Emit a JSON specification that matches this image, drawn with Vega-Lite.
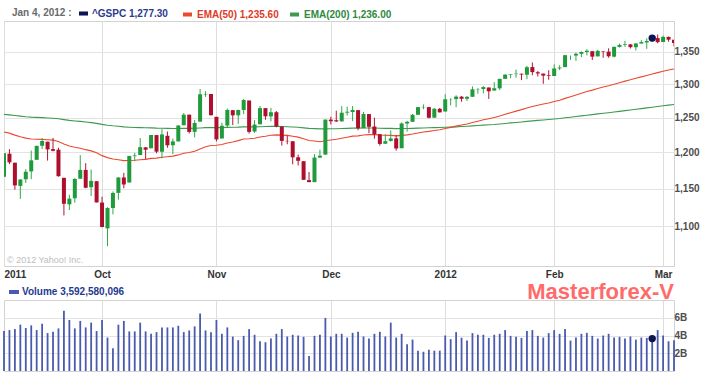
{
  "$schema": "https://vega.github.io/schema/vega-lite/v6.json",
  "background": "white",
  "padding": {"left": 1, "top": 7, "right": 0, "bottom": 0},
  "spacing": 34,
  "bounds": "flush",
  "resolve": {"scale": {"fill": "independent"}, "legend": {"fill": "independent"}},
  "datasets": {
    "px": [
      {"d":"2011-09-07","o":1165.85,"h":1198.62,"l":1165.85,"c":1198.62,"v":4.50,"e50":1229.0,"e200":1254.6},
      {"d":"2011-09-08","o":1197.98,"h":1204.40,"l":1183.34,"c":1185.90,"v":4.61,"e50":1227.3,"e200":1253.9},
      {"d":"2011-09-09","o":1185.37,"h":1185.37,"l":1148.37,"c":1154.23,"v":4.72,"e50":1224.4,"e200":1252.9},
      {"d":"2011-09-12","o":1153.50,"h":1162.52,"l":1136.07,"c":1162.27,"v":5.22,"e50":1222.0,"e200":1252.0},
      {"d":"2011-09-13","o":1162.59,"h":1176.41,"l":1157.44,"c":1172.87,"v":4.84,"e50":1220.1,"e200":1251.2},
      {"d":"2011-09-14","o":1173.32,"h":1202.38,"l":1162.73,"c":1188.68,"v":5.14,"e50":1218.8,"e200":1250.6},
      {"d":"2011-09-15","o":1189.44,"h":1209.11,"l":1189.44,"c":1209.11,"v":4.61,"e50":1218.4,"e200":1250.2},
      {"d":"2011-09-16","o":1209.21,"h":1220.06,"l":1204.46,"c":1216.01,"v":5.33,"e50":1218.3,"e200":1249.9},
      {"d":"2011-09-19","o":1214.99,"h":1214.99,"l":1188.36,"c":1204.09,"v":4.27,"e50":1217.8,"e200":1249.4},
      {"d":"2011-09-20","o":1204.50,"h":1220.39,"l":1201.29,"c":1202.09,"v":4.42,"e50":1217.2,"e200":1248.9},
      {"d":"2011-09-21","o":1203.63,"h":1206.30,"l":1166.21,"c":1166.76,"v":4.80,"e50":1215.2,"e200":1248.1},
      {"d":"2011-09-22","o":1164.55,"h":1164.55,"l":1114.22,"c":1129.56,"v":6.78,"e50":1211.8,"e200":1246.9},
      {"d":"2011-09-23","o":1128.82,"h":1141.72,"l":1121.36,"c":1136.43,"v":5.75,"e50":1208.9,"e200":1245.8},
      {"d":"2011-09-26","o":1136.91,"h":1164.19,"l":1131.07,"c":1162.95,"v":4.80,"e50":1207.1,"e200":1245.0},
      {"d":"2011-09-27","o":1163.32,"h":1195.86,"l":1163.32,"c":1175.38,"v":5.64,"e50":1205.8,"e200":1244.3},
      {"d":"2011-09-28","o":1175.39,"h":1184.71,"l":1150.40,"c":1151.06,"v":4.91,"e50":1203.7,"e200":1243.4},
      {"d":"2011-09-29","o":1151.74,"h":1175.87,"l":1139.93,"c":1160.40,"v":5.45,"e50":1202.0,"e200":1242.5},
      {"d":"2011-09-30","o":1159.93,"h":1159.93,"l":1131.34,"c":1131.42,"v":4.50,"e50":1199.2,"e200":1241.4},
      {"d":"2011-10-03","o":1131.21,"h":1138.99,"l":1098.92,"c":1099.23,"v":5.75,"e50":1195.3,"e200":1240.0},
      {"d":"2011-10-04","o":1097.42,"h":1125.12,"l":1074.77,"c":1123.95,"v":3.77,"e50":1192.5,"e200":1238.8},
      {"d":"2011-10-05","o":1124.03,"h":1146.07,"l":1115.68,"c":1144.03,"v":2.55,"e50":1190.6,"e200":1237.9},
      {"d":"2011-10-06","o":1144.11,"h":1165.55,"l":1134.95,"c":1164.97,"v":5.22,"e50":1189.6,"e200":1237.2},
      {"d":"2011-10-07","o":1165.03,"h":1171.40,"l":1150.26,"c":1155.46,"v":5.64,"e50":1188.3,"e200":1236.4},
      {"d":"2011-10-10","o":1158.15,"h":1194.91,"l":1158.15,"c":1194.89,"v":4.46,"e50":1188.5,"e200":1235.9},
      {"d":"2011-10-11","o":1194.60,"h":1199.24,"l":1187.30,"c":1195.54,"v":4.46,"e50":1188.8,"e200":1235.5},
      {"d":"2011-10-12","o":1196.19,"h":1220.25,"l":1196.19,"c":1207.25,"v":5.45,"e50":1189.5,"e200":1235.3},
      {"d":"2011-10-13","o":1206.96,"h":1207.46,"l":1190.58,"c":1203.66,"v":4.46,"e50":1190.1,"e200":1235.0},
      {"d":"2011-10-14","o":1205.65,"h":1224.61,"l":1205.65,"c":1224.58,"v":4.19,"e50":1191.4,"e200":1234.9},
      {"d":"2011-10-17","o":1224.47,"h":1224.47,"l":1198.55,"c":1200.86,"v":4.38,"e50":1191.8,"e200":1234.5},
      {"d":"2011-10-18","o":1200.75,"h":1233.10,"l":1191.48,"c":1225.38,"v":4.91,"e50":1193.1,"e200":1234.4},
      {"d":"2011-10-19","o":1223.46,"h":1229.64,"l":1206.31,"c":1209.88,"v":4.91,"e50":1193.8,"e200":1234.2},
      {"d":"2011-10-20","o":1209.92,"h":1219.53,"l":1197.34,"c":1215.39,"v":4.91,"e50":1194.6,"e200":1234.0},
      {"d":"2011-10-21","o":1215.39,"h":1239.03,"l":1215.39,"c":1238.25,"v":5.10,"e50":1196.3,"e200":1234.0},
      {"d":"2011-10-24","o":1238.72,"h":1256.55,"l":1238.72,"c":1254.19,"v":4.38,"e50":1198.6,"e200":1234.2},
      {"d":"2011-10-25","o":1254.19,"h":1254.19,"l":1226.79,"c":1229.05,"v":4.57,"e50":1199.8,"e200":1234.2},
      {"d":"2011-10-26","o":1229.17,"h":1246.28,"l":1221.06,"c":1242.00,"v":5.03,"e50":1201.5,"e200":1234.3},
      {"d":"2011-10-27","o":1243.97,"h":1292.66,"l":1243.97,"c":1284.59,"v":6.48,"e50":1204.7,"e200":1234.8},
      {"d":"2011-10-28","o":1284.39,"h":1289.24,"l":1280.66,"c":1285.09,"v":4.57,"e50":1207.9,"e200":1235.3},
      {"d":"2011-10-31","o":1284.96,"h":1284.96,"l":1253.16,"c":1253.30,"v":4.38,"e50":1209.7,"e200":1235.5},
      {"d":"2011-11-01","o":1251.00,"h":1251.00,"l":1215.42,"c":1218.28,"v":5.75,"e50":1210.0,"e200":1235.3},
      {"d":"2011-11-02","o":1219.62,"h":1242.48,"l":1219.62,"c":1237.90,"v":4.19,"e50":1211.1,"e200":1235.3},
      {"d":"2011-11-03","o":1238.25,"h":1263.21,"l":1234.81,"c":1261.15,"v":4.91,"e50":1213.1,"e200":1235.6},
      {"d":"2011-11-04","o":1260.82,"h":1260.82,"l":1238.92,"c":1253.23,"v":3.88,"e50":1214.6,"e200":1235.8},
      {"d":"2011-11-07","o":1253.21,"h":1261.70,"l":1240.75,"c":1261.12,"v":3.47,"e50":1216.5,"e200":1236.0},
      {"d":"2011-11-08","o":1261.12,"h":1277.55,"l":1254.99,"c":1275.92,"v":3.96,"e50":1218.8,"e200":1236.4},
      {"d":"2011-11-09","o":1275.18,"h":1275.18,"l":1226.64,"c":1229.10,"v":4.72,"e50":1219.2,"e200":1236.3},
      {"d":"2011-11-10","o":1229.59,"h":1246.22,"l":1227.70,"c":1239.70,"v":4.08,"e50":1220.0,"e200":1236.4},
      {"d":"2011-11-11","o":1240.12,"h":1266.98,"l":1240.12,"c":1263.85,"v":3.35,"e50":1221.7,"e200":1236.6},
      {"d":"2011-11-14","o":1263.85,"h":1263.85,"l":1246.68,"c":1251.78,"v":3.24,"e50":1222.9,"e200":1236.8},
      {"d":"2011-11-15","o":1251.70,"h":1264.25,"l":1244.34,"c":1257.81,"v":3.66,"e50":1224.3,"e200":1237.0},
      {"d":"2011-11-16","o":1257.81,"h":1259.61,"l":1235.67,"c":1236.91,"v":4.19,"e50":1224.8,"e200":1237.0},
      {"d":"2011-11-17","o":1236.56,"h":1237.73,"l":1209.43,"c":1216.13,"v":4.72,"e50":1224.4,"e200":1236.8},
      {"d":"2011-11-18","o":1216.19,"h":1223.51,"l":1211.36,"c":1215.65,"v":3.89,"e50":1224.1,"e200":1236.6},
      {"d":"2011-11-21","o":1215.62,"h":1215.62,"l":1183.16,"c":1192.98,"v":4.08,"e50":1222.9,"e200":1236.1},
      {"d":"2011-11-22","o":1192.98,"h":1196.81,"l":1181.65,"c":1188.04,"v":4.00,"e50":1221.5,"e200":1235.7},
      {"d":"2011-11-23","o":1187.48,"h":1187.48,"l":1161.79,"c":1161.79,"v":3.85,"e50":1219.2,"e200":1234.9},
      {"d":"2011-11-25","o":1161.41,"h":1172.66,"l":1158.66,"c":1158.67,"v":1.68,"e50":1216.8,"e200":1234.2},
      {"d":"2011-11-28","o":1158.67,"h":1197.35,"l":1158.67,"c":1192.55,"v":3.96,"e50":1215.9,"e200":1233.8},
      {"d":"2011-11-29","o":1192.56,"h":1203.67,"l":1191.80,"c":1195.19,"v":4.08,"e50":1215.0,"e200":1233.4},
      {"d":"2011-11-30","o":1196.72,"h":1247.11,"l":1196.72,"c":1246.96,"v":5.98,"e50":1216.3,"e200":1233.5},
      {"d":"2011-12-01","o":1246.91,"h":1251.09,"l":1239.73,"c":1244.58,"v":3.89,"e50":1217.4,"e200":1233.6},
      {"d":"2011-12-02","o":1246.03,"h":1260.08,"l":1243.35,"c":1244.28,"v":4.19,"e50":1218.4,"e200":1233.7},
      {"d":"2011-12-05","o":1244.33,"h":1266.73,"l":1244.33,"c":1257.08,"v":4.19,"e50":1219.9,"e200":1234.0},
      {"d":"2011-12-06","o":1257.19,"h":1266.03,"l":1253.03,"c":1258.47,"v":3.77,"e50":1221.4,"e200":1234.2},
      {"d":"2011-12-07","o":1258.14,"h":1267.06,"l":1244.80,"c":1261.01,"v":4.30,"e50":1223.0,"e200":1234.5},
      {"d":"2011-12-08","o":1260.87,"h":1260.87,"l":1231.47,"c":1234.35,"v":4.42,"e50":1223.4,"e200":1234.5},
      {"d":"2011-12-09","o":1234.48,"h":1258.25,"l":1234.48,"c":1255.19,"v":3.89,"e50":1224.7,"e200":1234.7},
      {"d":"2011-12-12","o":1255.05,"h":1255.05,"l":1227.25,"c":1236.47,"v":3.66,"e50":1225.1,"e200":1234.7},
      {"d":"2011-12-13","o":1236.83,"h":1249.86,"l":1219.43,"c":1225.73,"v":4.19,"e50":1225.2,"e200":1234.6},
      {"d":"2011-12-14","o":1225.73,"h":1225.73,"l":1209.47,"c":1211.82,"v":4.42,"e50":1224.6,"e200":1234.4},
      {"d":"2011-12-15","o":1212.12,"h":1225.60,"l":1212.12,"c":1215.75,"v":3.89,"e50":1224.3,"e200":1234.2},
      {"d":"2011-12-16","o":1216.09,"h":1231.04,"l":1215.20,"c":1219.66,"v":5.45,"e50":1224.1,"e200":1234.1},
      {"d":"2011-12-19","o":1219.74,"h":1224.57,"l":1202.37,"c":1205.35,"v":3.77,"e50":1223.4,"e200":1233.8},
      {"d":"2011-12-20","o":1205.72,"h":1242.82,"l":1205.72,"c":1241.30,"v":4.19,"e50":1224.1,"e200":1233.9},
      {"d":"2011-12-21","o":1241.25,"h":1245.09,"l":1229.51,"c":1243.72,"v":3.01,"e50":1224.8,"e200":1234.0},
      {"d":"2011-12-22","o":1243.72,"h":1255.22,"l":1243.72,"c":1254.00,"v":3.54,"e50":1226.0,"e200":1234.2},
      {"d":"2011-12-23","o":1254.00,"h":1265.42,"l":1254.00,"c":1265.33,"v":2.29,"e50":1227.5,"e200":1234.5},
      {"d":"2011-12-27","o":1265.02,"h":1269.37,"l":1262.30,"c":1265.43,"v":2.17,"e50":1229.0,"e200":1234.8},
      {"d":"2011-12-28","o":1265.38,"h":1265.85,"l":1248.64,"c":1249.64,"v":2.40,"e50":1229.8,"e200":1235.0},
      {"d":"2011-12-29","o":1249.75,"h":1263.54,"l":1249.75,"c":1263.02,"v":2.29,"e50":1231.1,"e200":1235.2},
      {"d":"2011-12-30","o":1262.82,"h":1264.12,"l":1257.46,"c":1257.60,"v":2.29,"e50":1232.2,"e200":1235.5},
      {"d":"2012-01-03","o":1258.86,"h":1284.62,"l":1258.86,"c":1277.06,"v":4.00,"e50":1233.9,"e200":1235.7},
      {"d":"2012-01-04","o":1277.03,"h":1278.73,"l":1268.10,"c":1277.30,"v":3.59,"e50":1235.6,"e200":1236.0},
      {"d":"2012-01-05","o":1277.30,"h":1283.05,"l":1265.26,"c":1281.06,"v":4.38,"e50":1237.4,"e200":1236.4},
      {"d":"2012-01-06","o":1280.93,"h":1281.84,"l":1273.34,"c":1277.81,"v":3.75,"e50":1239.0,"e200":1236.8},
      {"d":"2012-01-09","o":1277.83,"h":1281.99,"l":1274.55,"c":1280.70,"v":3.45,"e50":1240.6,"e200":1237.3},
      {"d":"2012-01-10","o":1280.77,"h":1296.46,"l":1280.77,"c":1292.08,"v":4.27,"e50":1242.6,"e200":1237.8},
      {"d":"2012-01-11","o":1292.02,"h":1293.80,"l":1285.41,"c":1292.48,"v":4.08,"e50":1244.6,"e200":1238.3},
      {"d":"2012-01-12","o":1292.48,"h":1296.82,"l":1285.77,"c":1295.50,"v":4.08,"e50":1246.6,"e200":1238.9},
      {"d":"2012-01-13","o":1294.82,"h":1294.82,"l":1277.58,"c":1289.09,"v":3.73,"e50":1248.3,"e200":1239.4},
      {"d":"2012-01-17","o":1290.22,"h":1303.00,"l":1290.22,"c":1293.67,"v":4.08,"e50":1250.1,"e200":1239.9},
      {"d":"2012-01-18","o":1293.65,"h":1308.11,"l":1290.99,"c":1308.04,"v":4.19,"e50":1252.3,"e200":1240.6},
      {"d":"2012-01-19","o":1308.07,"h":1315.49,"l":1308.07,"c":1314.50,"v":4.61,"e50":1254.8,"e200":1241.3},
      {"d":"2012-01-20","o":1314.49,"h":1315.38,"l":1309.17,"c":1315.38,"v":3.96,"e50":1257.1,"e200":1242.1},
      {"d":"2012-01-23","o":1315.29,"h":1322.28,"l":1309.89,"c":1316.00,"v":3.85,"e50":1259.4,"e200":1242.8},
      {"d":"2012-01-24","o":1315.96,"h":1315.96,"l":1306.06,"c":1314.65,"v":3.73,"e50":1261.6,"e200":1243.5},
      {"d":"2012-01-25","o":1314.40,"h":1328.30,"l":1307.65,"c":1326.06,"v":4.50,"e50":1264.1,"e200":1244.3},
      {"d":"2012-01-26","o":1326.28,"h":1333.47,"l":1313.60,"c":1318.43,"v":4.61,"e50":1266.3,"e200":1245.1},
      {"d":"2012-01-27","o":1318.25,"h":1320.06,"l":1311.72,"c":1316.33,"v":3.96,"e50":1268.2,"e200":1245.8},
      {"d":"2012-01-30","o":1316.16,"h":1316.16,"l":1300.49,"c":1313.01,"v":3.77,"e50":1270.0,"e200":1246.4},
      {"d":"2012-01-31","o":1313.53,"h":1321.41,"l":1306.69,"c":1312.41,"v":4.27,"e50":1271.6,"e200":1247.1},
      {"d":"2012-02-01","o":1312.45,"h":1330.52,"l":1312.45,"c":1324.09,"v":4.61,"e50":1273.7,"e200":1247.9},
      {"d":"2012-02-02","o":1324.24,"h":1329.19,"l":1321.57,"c":1325.54,"v":4.19,"e50":1275.7,"e200":1248.6},
      {"d":"2012-02-03","o":1326.21,"h":1345.34,"l":1326.21,"c":1344.90,"v":4.72,"e50":1278.4,"e200":1249.6},
      {"d":"2012-02-06","o":1344.32,"h":1344.36,"l":1337.52,"c":1344.33,"v":3.43,"e50":1281.0,"e200":1250.5},
      {"d":"2012-02-07","o":1344.33,"h":1349.24,"l":1335.92,"c":1347.05,"v":3.77,"e50":1283.6,"e200":1251.5},
      {"d":"2012-02-08","o":1347.04,"h":1351.00,"l":1341.95,"c":1349.96,"v":4.19,"e50":1286.2,"e200":1252.4},
      {"d":"2012-02-09","o":1349.97,"h":1354.32,"l":1344.63,"c":1351.95,"v":4.30,"e50":1288.8,"e200":1253.4},
      {"d":"2012-02-10","o":1351.21,"h":1351.21,"l":1337.35,"c":1342.64,"v":3.96,"e50":1290.9,"e200":1254.3},
      {"d":"2012-02-13","o":1343.06,"h":1353.35,"l":1343.06,"c":1351.77,"v":3.66,"e50":1293.3,"e200":1255.3},
      {"d":"2012-02-14","o":1351.30,"h":1351.30,"l":1340.83,"c":1350.50,"v":4.00,"e50":1295.5,"e200":1256.2},
      {"d":"2012-02-15","o":1350.52,"h":1355.87,"l":1340.80,"c":1343.23,"v":4.19,"e50":1297.4,"e200":1257.1},
      {"d":"2012-02-16","o":1342.61,"h":1359.02,"l":1341.22,"c":1358.04,"v":3.77,"e50":1299.8,"e200":1258.1},
      {"d":"2012-02-17","o":1358.06,"h":1363.40,"l":1357.24,"c":1361.23,"v":3.85,"e50":1302.2,"e200":1259.1},
      {"d":"2012-02-21","o":1361.22,"h":1367.76,"l":1358.11,"c":1362.21,"v":3.66,"e50":1304.6,"e200":1260.1},
      {"d":"2012-02-22","o":1362.11,"h":1362.70,"l":1355.53,"c":1357.66,"v":3.89,"e50":1306.6,"e200":1261.1},
      {"d":"2012-02-23","o":1357.53,"h":1364.24,"l":1352.28,"c":1363.46,"v":3.54,"e50":1308.9,"e200":1262.1},
      {"d":"2012-02-24","o":1363.46,"h":1368.92,"l":1363.46,"c":1365.74,"v":3.77,"e50":1311.1,"e200":1263.1},
      {"d":"2012-02-27","o":1365.20,"h":1371.94,"l":1354.92,"c":1367.59,"v":3.73,"e50":1313.3,"e200":1264.2},
      {"d":"2012-02-28","o":1367.56,"h":1373.09,"l":1365.97,"c":1372.18,"v":3.65,"e50":1315.6,"e200":1265.2},
      {"d":"2012-02-29","o":1372.20,"h":1378.04,"l":1363.81,"c":1365.68,"v":4.61,"e50":1317.6,"e200":1266.2},
      {"d":"2012-03-01","o":1365.90,"h":1376.17,"l":1365.90,"c":1374.09,"v":4.00,"e50":1319.8,"e200":1267.3},
      {"d":"2012-03-02","o":1374.09,"h":1374.53,"l":1366.42,"c":1369.63,"v":3.35,"e50":1321.8,"e200":1268.3},
      {"d":"2012-03-05","o":1369.59,"h":1369.59,"l":1359.13,"c":1364.33,"v":3.47,"e50":1323.4,"e200":1269.3}
    ]
  },
  "vconcat": [
    {
      "width": 670,
      "height": 245,
      "data": {"name": "px"},
      "encoding": {
        "x": {
          "field": "d", "type": "ordinal",
          "scale": {"type": "point", "padding": 0},
          "axis": {
            "title": null,
            "values": ["2011-09-07","2011-10-03","2011-11-01","2011-12-01","2012-01-03","2012-02-01","2012-03-01"],
            "labelExpr": "datum.value == '2011-09-07' ? '2011' : datum.value == '2011-10-03' ? 'Oct' : datum.value == '2011-11-01' ? 'Nov' : datum.value == '2011-12-01' ? 'Dec' : datum.value == '2012-01-03' ? '2012' : datum.value == '2012-02-01' ? 'Feb' : 'Mar'",
            "labelFlush": true,
            "labelOverlap": false,
            "labelAngle": 0,
            "labelPadding": 3,
            "labelColor": "#333333",
            "grid": true,
            "gridColor": "#dddddd"
          }
        }
      },
      "layer": [
        {
          "mark": {"type": "line", "strokeWidth": 1.1},
          "encoding": {
            "y": {
              "field": "e200", "type": "quantitative",
              "scale": {"type": "log", "domain": [1050, 1400], "nice": false, "zero": false},
              "axis": {"title": null, "orient": "right", "values": [1100,1150,1200,1250,1300,1350], "format": ",", "labelPadding": 0, "grid": true, "labelOverlap": false}
            },
            "stroke": {
              "datum": "EMA(200) 1,236.00",
              "scale": {"range": ["#3d9b4e"]},
              "legend": {"orient": "none", "legendX": 284, "legendY": -13, "title": null, "symbolType": "stroke", "symbolSize": 81, "symbolStrokeWidth": 4, "labelColor": "#2e8a3e", "labelOffset": 3}
            }
          }
        },
        {
          "mark": {"type": "line", "strokeWidth": 1.1},
          "encoding": {
            "y": {"field": "e50", "type": "quantitative", "axis": {"title": null, "orient": "right", "values": [1100,1150,1200,1250,1300,1350], "format": ",", "labelPadding": 0, "grid": true, "labelOverlap": false}},
            "stroke": {
              "datum": "EMA(50) 1,235.60",
              "scale": {"range": ["#ea4a30"]},
              "legend": {"orient": "none", "legendX": 177, "legendY": -13, "title": null, "symbolType": "stroke", "symbolSize": 81, "symbolStrokeWidth": 4, "labelColor": "#e03a26", "labelOffset": 3}
            }
          }
        },
        {
          "mark": {"type": "rule", "clip": true, "strokeWidth": 1},
          "encoding": {
            "y": {"field": "l", "type": "quantitative", "axis": {"title": null, "orient": "right", "values": [1100,1150,1200,1250,1300,1350], "format": ",", "labelPadding": 0, "grid": true, "labelOverlap": false}},
            "y2": {"field": "h"},
            "color": {"condition": {"test": "datum.c >= datum.o", "value": "#2fa84a"}, "value": "#b3152f"}
          }
        },
        {
          "mark": {"type": "bar", "size": 4, "clip": true},
          "encoding": {
            "y": {"field": "o", "type": "quantitative", "axis": {"title": null, "orient": "right", "values": [1100,1150,1200,1250,1300,1350], "format": ",", "labelPadding": 0, "grid": true, "labelOverlap": false}},
            "y2": {"field": "c"},
            "color": {"condition": {"test": "datum.c >= datum.o", "value": "#1f9b3b"}, "value": "#ae0f2c"}
          }
        },
        {
          "transform": [{"filter": "datum.d == '2012-02-28'"}],
          "mark": {"type": "circle", "size": 55, "opacity": 1},
          "encoding": {
            "y": {"field": "c", "type": "quantitative", "axis": {"title": null, "orient": "right", "values": [1100,1150,1200,1250,1300,1350], "format": ",", "labelPadding": 0, "grid": true, "labelOverlap": false}},
            "fill": {
              "datum": "^GSPC 1,277.30",
              "scale": {"range": ["#0c1552"]},
              "legend": {"orient": "none", "legendX": 8, "legendY": -13, "title": "Jan 4, 2012 :", "titleOrient": "left", "titlePadding": 6, "titleColor": "#6a6a6a", "titleFontSize": 10, "titleFontWeight": "bold", "titleFont": "Liberation Sans", "symbolType": "M-1,-0.45H1V0.45H-1Z", "symbolSize": 81, "labelColor": "#2b3a8f", "labelOffset": 3}
            }
          }
        },
        {
          "data": {"values": [{"t": "© 2012 Yahoo! Inc."}]},
          "mark": {"type": "text", "align": "left", "baseline": "alphabetic", "dx": 3, "dy": -3, "fontSize": 9, "color": "#bdbdbd", "font": "Liberation Sans"},
          "encoding": {
            "x": {"datum": "2011-09-07"},
            "y": {"datum": 1050, "axis": {"title": null, "orient": "right", "values": [1100,1150,1200,1250,1300,1350], "format": ",", "labelPadding": 0, "grid": true, "labelOverlap": false}},
            "text": {"field": "t"}
          }
        }
      ],
      "resolve": {"scale": {"stroke": "independent"}}
    },
    {
      "width": 670,
      "height": 71,
      "title": {"text": "Masterforex-V", "anchor": "end", "frame": "group", "orient": "top", "fontSize": 22, "fontWeight": "bold", "color": "#ff6b6b", "font": "Liberation Sans", "offset": -18},
      "data": {"name": "px"},
      "encoding": {
        "x": {
          "field": "d", "type": "ordinal",
          "scale": {"type": "point", "padding": 0},
          "axis": {
            "title": null,
            "values": ["2011-10-03","2011-11-01","2011-12-01","2012-01-03","2012-02-01","2012-03-01"],
            "labels": false,
            "grid": true,
            "gridColor": "#dddddd"
          }
        }
      },
      "layer": [
        {
          "mark": {"type": "bar", "size": 1.8},
          "encoding": {
            "y": {
              "field": "v", "type": "quantitative",
              "scale": {"domain": [0, 8], "nice": false},
              "axis": {"title": null, "orient": "right", "values": [2, 4, 6], "labelExpr": "datum.value + 'B'", "labelPadding": 0, "grid": true, "labelOverlap": false}
            },
            "fill": {
              "datum": "Volume 3,592,580,096",
              "scale": {"range": ["#4a5aae"]},
              "legend": {"orient": "none", "legendX": 4, "legendY": -14, "title": null, "symbolType": "M-1,-0.4H1V0.4H-1Z", "symbolSize": 100, "labelColor": "#25398f", "labelOffset": 2}
            }
          }
        },
        {
          "transform": [{"filter": "datum.d == '2012-02-28'"}],
          "mark": {"type": "circle", "size": 55, "opacity": 1, "color": "#0c1552"},
          "encoding": {
            "y": {"field": "v", "type": "quantitative", "axis": {"title": null, "orient": "right", "values": [2, 4, 6], "labelExpr": "datum.value + 'B'", "labelPadding": 0, "grid": true, "labelOverlap": false}}
          }
        }
      ]
    }
  ],
  "config": {
    "font": "Liberation Sans",
    "view": {"stroke": "#d2d2d2"},
    "axis": {
      "labelFont": "Liberation Sans",
      "labelFontSize": 10,
      "labelFontWeight": "bold",
      "labelColor": "#4d4d4d",
      "ticks": false,
      "domain": false,
      "gridColor": "#e3e3e3",
      "title": null
    },
    "legend": {
      "padding": 0,
      "labelFont": "Liberation Sans",
      "labelFontSize": 10,
      "labelFontWeight": "bold",
      "titleFont": "Liberation Sans"
    }
  }
}
